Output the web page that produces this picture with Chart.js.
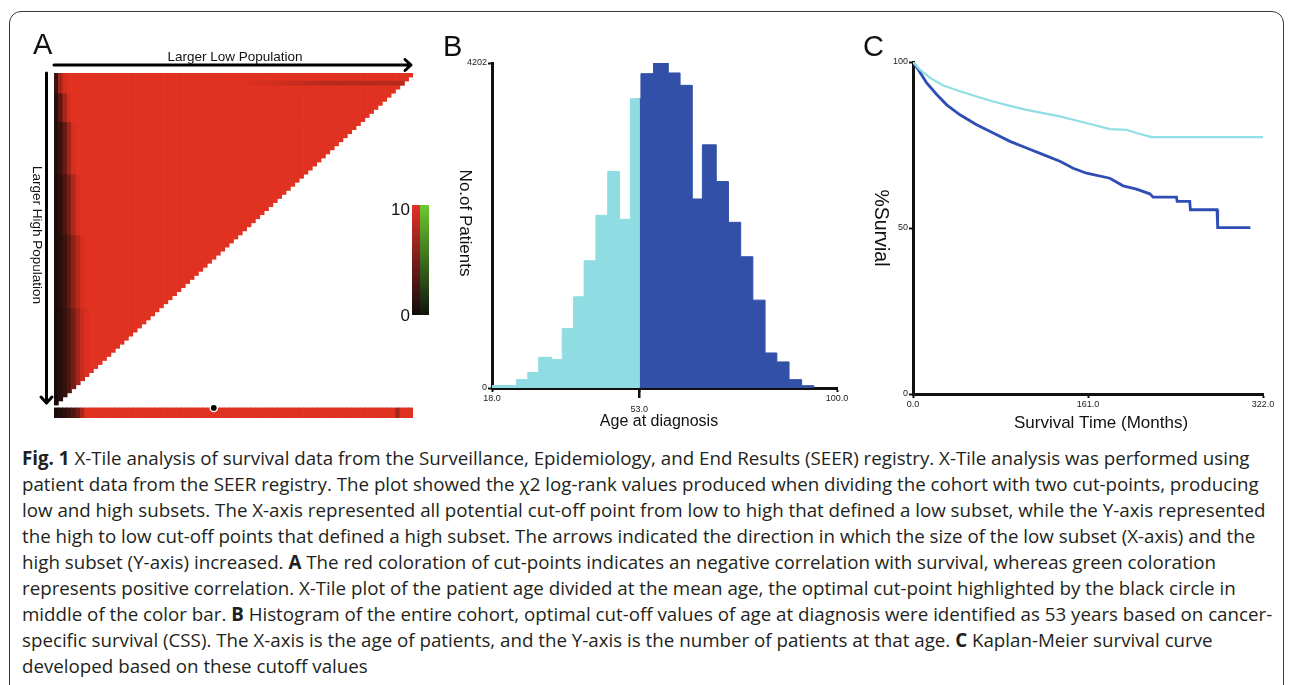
<!DOCTYPE html>
<html>
<head>
<meta charset="utf-8">
<title>X-Tile analysis, SEER</title>
<script src="https://cdn.jsdelivr.net/npm/chart.js@4.4.0/dist/chart.umd.min.js"></script>
<style>
  html, body { margin: 0; padding: 0; background: #fff; }
  body { width: 1290px; height: 685px; position: relative; overflow: hidden; font-family: "Liberation Sans", Arial, sans-serif; }
  .frame { position: absolute; left: 9px; top: 11px; width: 1275px; height: 720px; border: 1.5px solid #3a3a3a; border-radius: 12px; box-sizing: border-box; }
  canvas { position: absolute; }
  .panel { position: absolute; font-size: 29px; line-height: 1; color: #111; }
  .cap { position: absolute; left: 22px; height: 26px; line-height: 26px; white-space: nowrap; font-family: "Liberation Sans Narrow", "Open Sans", sans-serif; font-size: 19px; color: #231f20; transform-origin: 0 50%; }
  .cap b { font-weight: 700; }
</style>
</head>
<body>
<div class="frame"></div>
<canvas id="chartA" width="440" height="430" style="left:0;top:0;width:440px;height:430px"></canvas>
<canvas id="chartB" width="420" height="410" style="left:440px;top:30px;width:420px;height:410px"></canvas>
<canvas id="chartC" width="430" height="410" style="left:860px;top:30px;width:430px;height:410px"></canvas>
<div class="panel" style="left:33px;top:30px">A</div>
<div class="panel" style="left:443px;top:32px">B</div>
<div class="panel" style="left:863px;top:32px">C</div>

<div class="cap" style="top:445px"><b>Fig. 1</b> X-Tile analysis of survival data from the Surveillance, Epidemiology, and End Results (SEER) registry. X-Tile analysis was performed using</div>
<div class="cap" style="top:471px">patient data from the SEER registry. The plot showed the χ2 log-rank values produced when dividing the cohort with two cut-points, producing</div>
<div class="cap" style="top:497px">low and high subsets. The X-axis represented all potential cut-off point from low to high that defined a low subset, while the Y-axis represented</div>
<div class="cap" style="top:523px">the high to low cut-off points that defined a high subset. The arrows indicated the direction in which the size of the low subset (X-axis) and the</div>
<div class="cap" style="top:549px">high subset (Y-axis) increased. <b>A</b> The red coloration of cut-points indicates an negative correlation with survival, whereas green coloration</div>
<div class="cap" style="top:575px">represents positive correlation. X-Tile plot of the patient age divided at the mean age, the optimal cut-point highlighted by the black circle in</div>
<div class="cap" style="top:601px">middle of the color bar. <b>B</b> Histogram of the entire cohort, optimal cut-off values of age at diagnosis were identified as 53 years based on cancer-</div>
<div class="cap" style="top:627px">specific survival (CSS). The X-axis is the age of patients, and the Y-axis is the number of patients at that age. <b>C</b> Kaplan-Meier survival curve</div>
<div class="cap" style="top:653px">developed based on these cutoff values</div>

<script>
// ---- A: X-tile plot (chi2 of every pair of cut-points, 0..10 scale) ----
const cutPoints = Array.from({length: 82}, (_, i) => String(18 + i));
// left edge of the triangle darkens further down; one list per row band, rest of the row is >= 10
const bandStartRows = [0, 5, 12, 25, 40, 58];
const bandChi = [
  [2, 7, 9.5],
  [1, 3.5, 7, 9.5],
  [0.7, 1.8, 4, 7, 9.5],
  [0.5, 1.2, 2.8, 5, 7.5, 9.5],
  [0.4, 1, 2, 3.8, 6, 8, 9.5],
  [0.3, 0.8, 1.6, 3, 4.8, 7, 8.8, 9.7]
];
const stripeStart = 44;                                 // darker run in row 2 (top right)
const stripeChi = [9.8, 9.7, 9.6, 9.5, 9.4, 9.3, 9.2, 9.1, 9, 8.9, 8.8, 8.7, 8.6, 8.5, 8.4, 8.3, 8.2, 8.1,
                   8, 8, 8, 8, 8, 8, 8, 8, 8, 8, 8, 8, 8, 8, 8, 8, 8, 8];
const colorBarChi = [0.3, 0.8, 1.2, 2, 3, 4.5, 7.5];    // bottom bar, first cut-points
const colorBarDarkIdx = 78, colorBarDarkChi = 7;
const optimalCut = 36;

// ---- B: histogram of age at diagnosis ----
const youngEdges = [18, 23.8, 26.5, 29.1, 32.2, 34.7, 37.4, 39.9, 42.7, 45.5, 48.3, 50.9, 53];
const youngCounts = [32, 108, 200, 397, 367, 769, 1179, 1645, 2233, 2798, 2181, 3740];
const oldEdges = [53, 53.4, 56.4, 59.9, 62.7, 65.6, 68.0, 71.3, 74.2, 77.1, 80.0, 82.9, 85.7, 88.6, 91.6, 94.5];
const oldCounts = [3740, 4064, 4202, 4073, 3913, 2444, 3144, 2669, 2142, 1697, 1136, 453, 337, 108, 30];
const ageTicks = [18, 53, 100];
const countTicks = [0, 4202];

// ---- C: Kaplan-Meier ----
const kmYoungTime = [0, 6.4, 15.6, 27.9, 43.2, 58.5, 73.8, 89.2, 104.5, 119.8, 135.1, 147.4, 165.8, 181.1, 196.4, 205.6, 219.7, 322];
const kmYoungSurv = [100, 97.7, 95.2, 92.9, 91.2, 89.6, 88.1, 86.8, 85.6, 84.6, 83.6, 82.6, 81.1, 79.8, 79.6, 78.6, 77.4, 77.4];
const kmOldTime = [0, 4.9, 12.6, 21.8, 31, 43.2, 58.5, 73.8, 89.2, 104.5, 119.8, 135.1, 147.4, 159.6, 181.1, 193.3, 205.6, 217.9, 220.9, 242.4, 243, 254.6, 255.2, 279.7, 280.3, 310.4];
const kmOldSurv = [100, 97.7, 93.7, 90.2, 87.1, 84.1, 81.1, 78.6, 76.1, 74.1, 72.1, 70.1, 68.0, 66.5, 65.0, 62.7, 61.7, 60.3, 59.3, 59.3, 58, 58, 55.5, 55.5, 50.1, 50.1];
const monthTicks = [0, 161, 322];
const survTicks = [0, 50, 100];

const FONT = '"Liberation Sans", Arial, sans-serif';
Chart.defaults.font.family = FONT;

function chiColor(v) {
  const t = Math.max(0, Math.min(1, v / 10));
  const lo = [20, 11, 9], hi = [224, 49, 33];
  const c = lo.map((l, k) => Math.round(l + (hi[k] - l) * t));
  return `rgb(${c[0]},${c[1]},${c[2]})`;
}

function vText(ctx, text, x, y, size) {
  ctx.save();
  ctx.translate(x, y);
  ctx.rotate(Math.PI / 2);
  ctx.font = size + 'px ' + FONT;
  ctx.fillStyle = '#111';
  ctx.textAlign = 'center';
  ctx.textBaseline = 'middle';
  ctx.fillText(text, 0, 0);
  ctx.restore();
}
function hText(ctx, text, x, y, size, align) {
  ctx.save();
  ctx.font = size + 'px ' + FONT;
  ctx.fillStyle = '#111';
  ctx.textAlign = align || 'center';
  ctx.textBaseline = 'middle';
  ctx.fillText(text, x, y);
  ctx.restore();
}

// ---------- chart A ----------
const N = cutPoints.length;
const colHeight = cutPoints.map((_, i) => N - i);

function band(rowFrom, rowTo, chiList) {
  return {
    type: 'bar',
    data: colHeight.map(h => h > rowFrom ? [rowFrom, Math.min(rowTo, h)] : null),
    backgroundColor: colHeight.map((_, i) => chiColor(i < chiList.length ? chiList[i] : 10)),
    grouped: false, borderWidth: 0, barPercentage: 1, categoryPercentage: 1, order: 2
  };
}
const bandSets = bandStartRows.map((r, k) => band(r, bandStartRows[k + 1] ?? N, bandChi[k]));

const xtileDecor = {
  id: 'xtileDecor',
  afterDraw(chart) {
    const ctx = chart.ctx, a = chart.chartArea, y = chart.scales.y;
    ctx.save();
    ctx.strokeStyle = '#000';
    ctx.lineWidth = 3;
    ctx.lineCap = 'round';
    ctx.lineJoin = 'round';
    // top arrow
    const ty = a.top - 8;
    ctx.beginPath();
    ctx.moveTo(a.left, ty); ctx.lineTo(a.right - 2, ty);
    ctx.moveTo(a.right - 8, ty - 5.5); ctx.lineTo(a.right - 2, ty); ctx.lineTo(a.right - 8, ty + 5.5);
    ctx.stroke();
    // left arrow
    const lx = a.left - 7.5, by = y.getPixelForValue(N) - 2;
    ctx.beginPath();
    ctx.moveTo(lx, a.top); ctx.lineTo(lx, by);
    ctx.moveTo(lx - 5.5, by - 6); ctx.lineTo(lx, by); ctx.lineTo(lx + 5.5, by - 6);
    ctx.stroke();
    ctx.restore();

    hText(ctx, 'Larger Low Population', 235, 57, 13.5);
    vText(ctx, 'Larger High Population', 37, 235, 13.5);

    // chi2 colour key
    const gr = ctx.createLinearGradient(0, 205, 0, 315);
    gr.addColorStop(0, '#e3302a'); gr.addColorStop(1, '#120c0a');
    ctx.fillStyle = gr; ctx.fillRect(412, 205, 8, 110);
    const gg = ctx.createLinearGradient(0, 205, 0, 315);
    gg.addColorStop(0, '#6cc82f'); gg.addColorStop(1, '#0e150d');
    ctx.fillStyle = gg; ctx.fillRect(420, 205, 9, 110);
    hText(ctx, '10', 410, 210, 17, 'right');
    hText(ctx, '0', 410, 316, 17, 'right');
  }
};

new Chart(document.getElementById('chartA'), {
  data: {
    labels: cutPoints,
    datasets: [
      ...bandSets,
      {
        type: 'bar',
        data: cutPoints.map((_, i) => (i >= stripeStart && i - stripeStart < stripeChi.length) ? [2, 3] : null),
        backgroundColor: cutPoints.map((_, i) => chiColor(stripeChi[i - stripeStart] ?? 10)),
        grouped: false, borderWidth: 0, barPercentage: 1, categoryPercentage: 1, order: 1
      },
      {
        type: 'bar',
        data: cutPoints.map(() => [82.7, 85.2]),
        backgroundColor: cutPoints.map((_, i) => chiColor(i === colorBarDarkIdx ? colorBarDarkChi : (colorBarChi[i] ?? 10))),
        grouped: false, borderWidth: 0, barPercentage: 1, categoryPercentage: 1, order: 1
      },
      {
        type: 'line',
        data: cutPoints.map((_, i) => i === optimalCut ? 82.7 : null),
        showLine: false, pointRadius: 3.6, pointBackgroundColor: '#000',
        pointBorderColor: '#fff', pointBorderWidth: 1.5, order: 0
      }
    ]
  },
  options: {
    responsive: false, animation: false, devicePixelRatio: 1,
    layout: { padding: { left: 54, top: 73, right: 27, bottom: 12 } },
    plugins: { legend: { display: false }, tooltip: { enabled: false } },
    scales: {
      x: { display: false },
      y: { display: false, min: 0, max: 85.2, reverse: true }
    }
  },
  plugins: [xtileDecor]
});

// ---------- shared axis look ----------
function axisOpts(min, max, tickVals, fmt, fixedSize, isY) {
  return {
    type: 'linear', min, max,
    border: { display: true, color: '#111', width: 3 },
    grid: { display: true, drawOnChartArea: false, drawTicks: true, tickLength: 4, tickWidth: 2, tickColor: '#111' },
    ticks: { color: '#222', font: { size: 9 }, padding: 1, maxRotation: 0, autoSkip: false, callback: fmt },
    afterBuildTicks: s => { s.ticks = tickVals.map(v => ({ value: v })); },
    afterFit: s => { if (isY) s.width = fixedSize; else s.height = fixedSize; }
  };
}

// ---------- chart B ----------
const histDecor = {
  id: 'histDecor',
  afterDraw(chart) {
    const ctx = chart.ctx, a = chart.chartArea, x = chart.scales.x;
    const px = x.getPixelForValue(53);
    ctx.save();
    ctx.strokeStyle = '#111'; ctx.lineWidth = 2.5;
    ctx.beginPath(); ctx.moveTo(px, a.bottom); ctx.lineTo(px, a.bottom + 10); ctx.stroke();
    ctx.restore();
    vText(ctx, 'No.of Patients', 24.5, 193, 17);
    hText(ctx, 'Age at diagnosis', 219, 392, 16);
  }
};

new Chart(document.getElementById('chartB'), {
  type: 'line',
  data: {
    datasets: [
      {
        data: youngEdges.map((e, i) => ({ x: e, y: i < youngCounts.length ? youngCounts[i] : 0 })),
        stepped: 'before', fill: 'origin', backgroundColor: '#8fdde2', borderColor: '#8fdde2',
        borderWidth: 1, pointRadius: 0
      },
      {
        data: oldEdges.map((e, i) => ({ x: e, y: i < oldCounts.length ? oldCounts[i] : 0 })),
        stepped: 'before', fill: 'origin', backgroundColor: '#3350a8', borderColor: '#3350a8',
        borderWidth: 1, pointRadius: 0
      }
    ]
  },
  options: {
    responsive: false, animation: false, devicePixelRatio: 1,
    layout: { padding: { left: 0, top: 33, right: 23, bottom: 0 } },
    plugins: { legend: { display: false }, tooltip: { enabled: false } },
    scales: {
      x: axisOpts(18, 100, ageTicks, v => v === 53 ? ['', '53.0'] : v.toFixed(1), 52, false),
      y: axisOpts(0, 4202, countTicks, v => String(v), 52, true)
    }
  },
  plugins: [histDecor]
});

// ---------- chart C ----------
const kmDecor = {
  id: 'kmDecor',
  afterDraw(chart) {
    vText(chart.ctx, '%Survial', 20, 198, 19.5);
    hText(chart.ctx, 'Survival Time (Months)', 241, 393, 17);
  }
};

new Chart(document.getElementById('chartC'), {
  type: 'line',
  data: {
    datasets: [
      {
        data: kmYoungTime.map((t, i) => ({ x: t, y: kmYoungSurv[i] })),
        borderColor: '#8fdee5', borderWidth: 2.2, pointRadius: 0, tension: 0, fill: false
      },
      {
        data: kmOldTime.map((t, i) => ({ x: t, y: kmOldSurv[i] })),
        borderColor: '#2f4db3', borderWidth: 2.8, pointRadius: 0, tension: 0, fill: false
      }
    ]
  },
  options: {
    responsive: false, animation: false, devicePixelRatio: 1,
    layout: { padding: { left: 0, top: 32, right: 27, bottom: 0 } },
    plugins: { legend: { display: false }, tooltip: { enabled: false } },
    scales: {
      x: axisOpts(0, 322, monthTicks, v => v.toFixed(1), 46, false),
      y: axisOpts(0, 100, survTicks, v => String(v), 53, true)
    }
  },
  plugins: [kmDecor]
});

// caption: one horizontal squeeze for all lines, taken from the full-width lines
const capRight = [1232, 1258, 1262, 1263, 1222, 1260, 1268, 1200];
const caps = [...document.querySelectorAll('.cap')];
let sum = 0;
capRight.forEach((r, i) => { sum += (r - 22) / caps[i].getBoundingClientRect().width; });
const squeeze = (sum / capRight.length).toFixed(4);
caps.forEach(el => { el.style.transform = `scaleX(${squeeze})`; });
</script>
</body>
</html>
